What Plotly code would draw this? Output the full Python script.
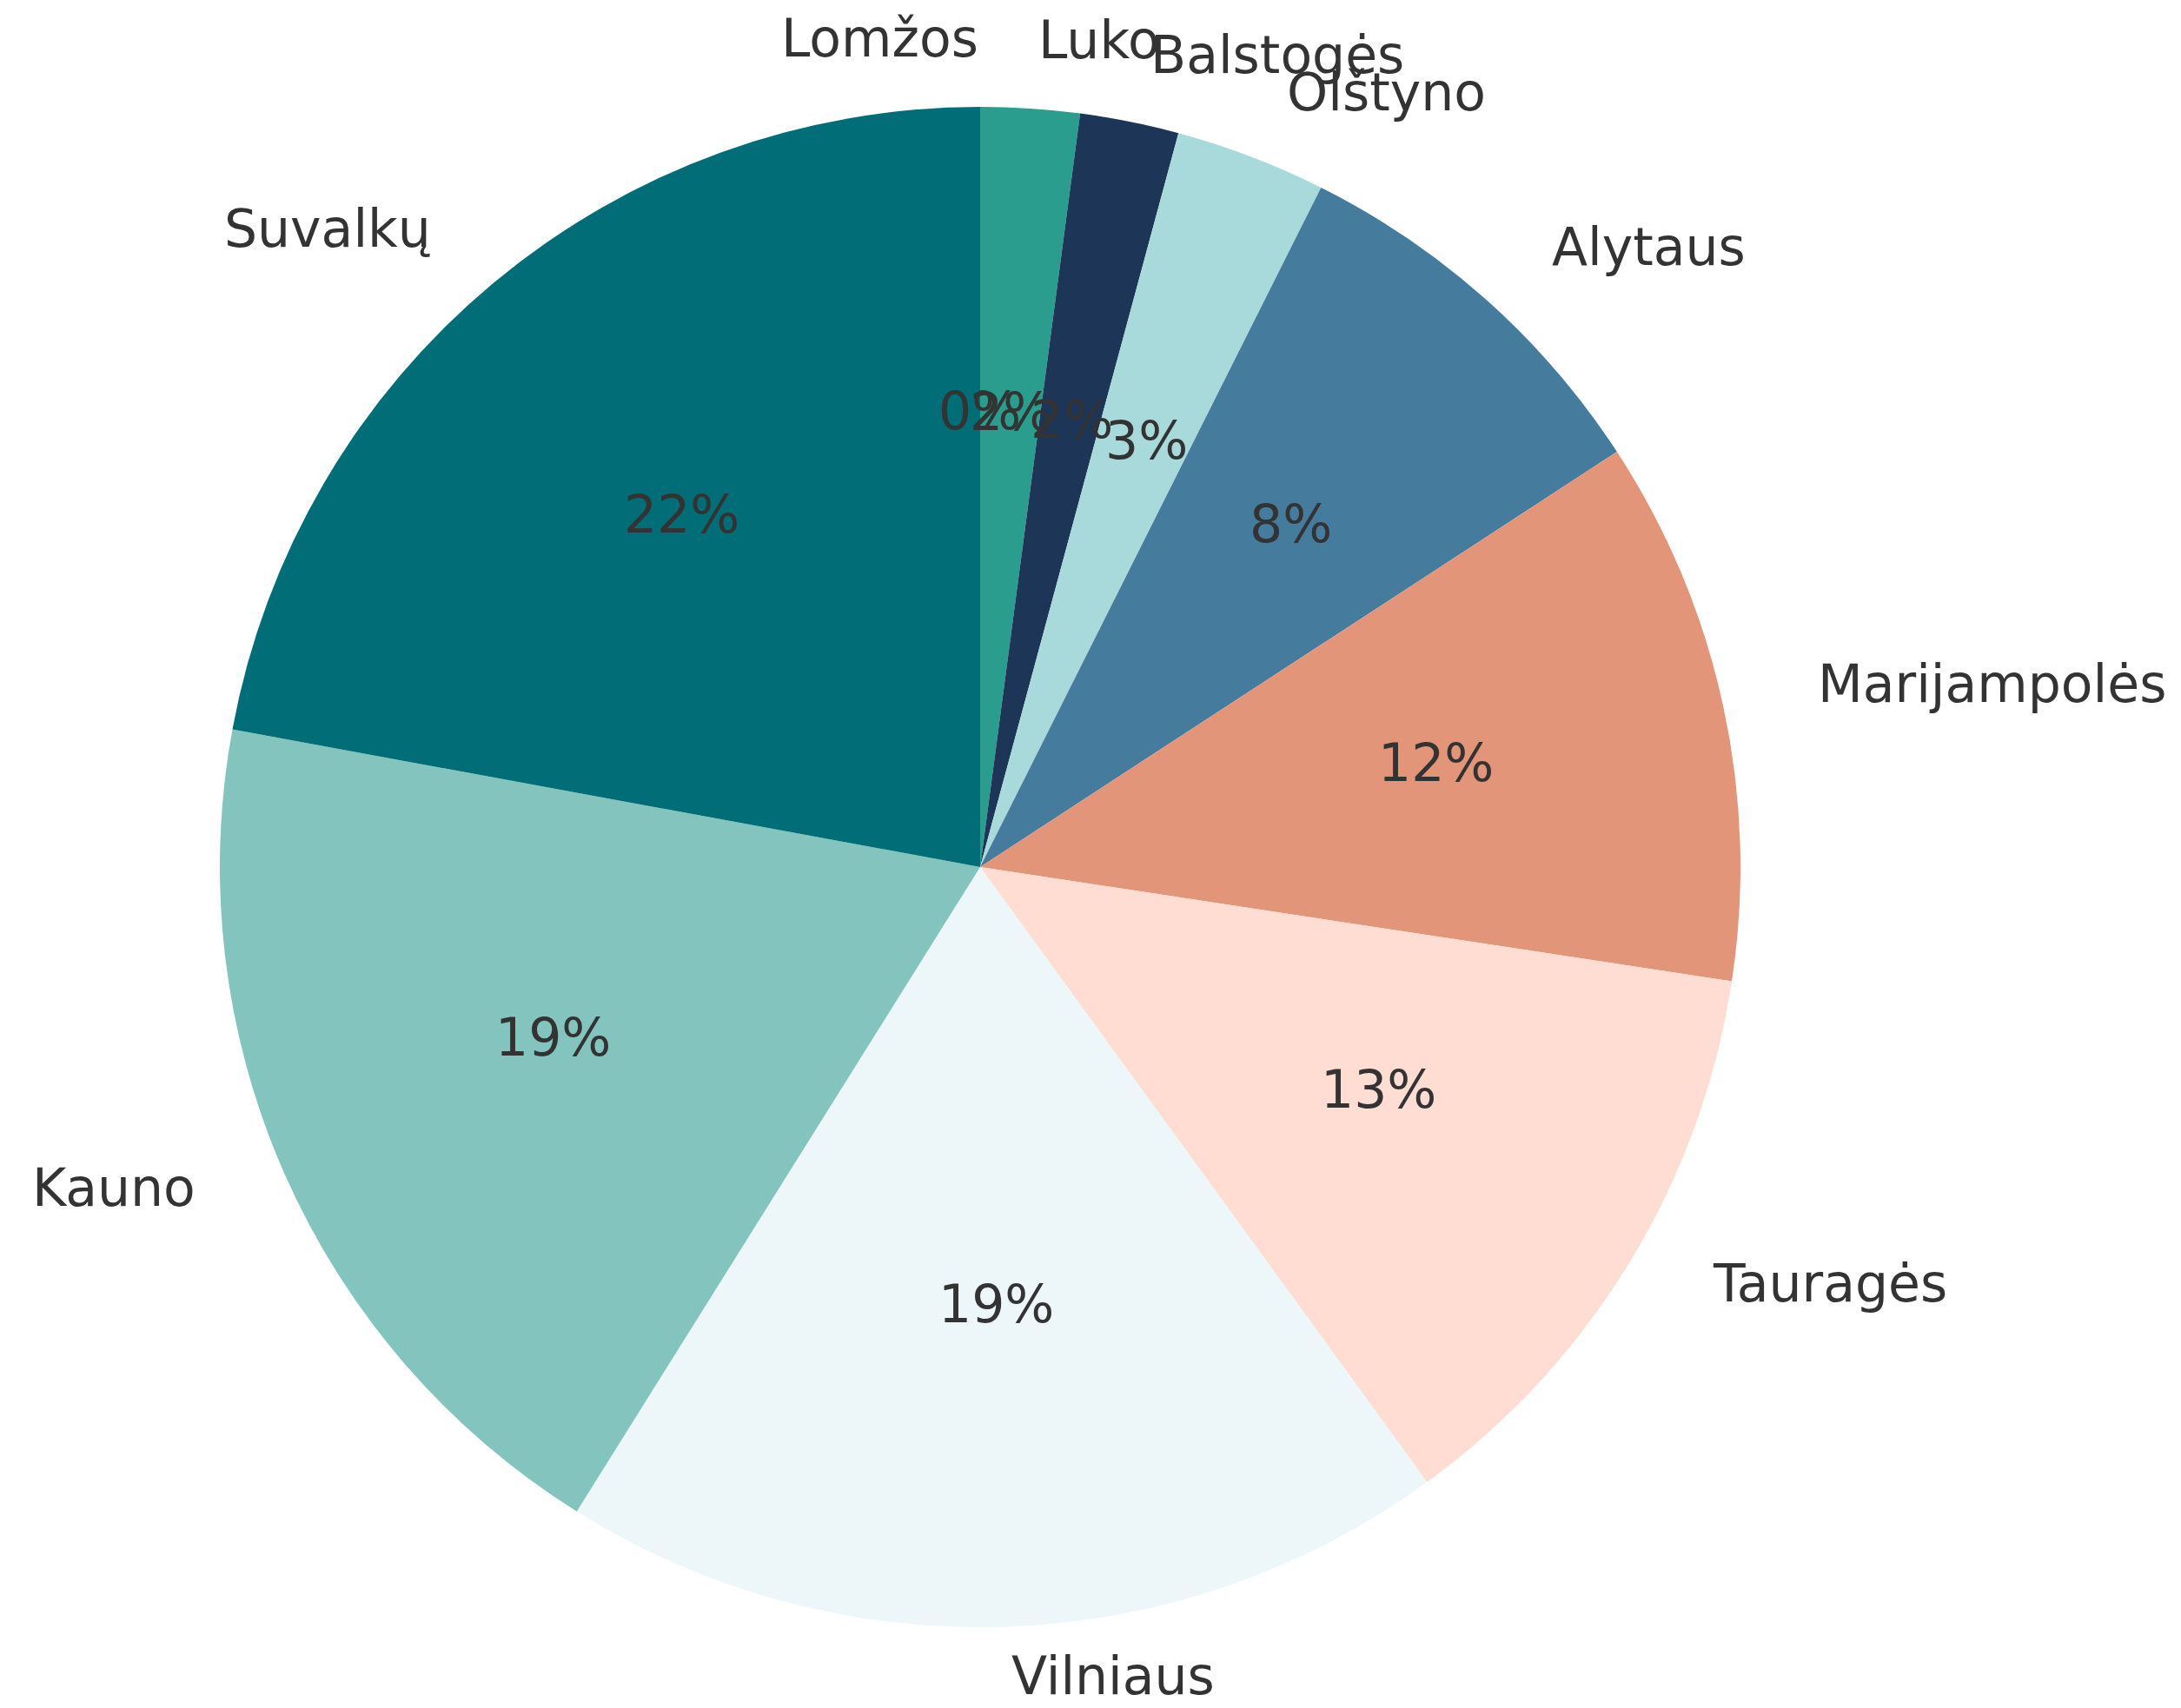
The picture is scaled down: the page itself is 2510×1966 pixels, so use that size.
import math
import plotly.graph_objects as go

# Data (percent shares), clockwise from 12 o'clock
regions = ["Luko", "Balstogės", "Olštyno", "Alytaus", "Marijampolės",
           "Tauragės", "Vilniaus", "Kauno", "Suvalkų", "Lomžos"]
shares = [2.1, 2.1, 3.2, 8.4, 11.6, 12.6, 18.9, 19.0, 22.1, 0.0]
colors = ["#2a9d8f", "#1d3557", "#a8dadc", "#457b9d", "#e29578",
          "#ffddd2", "#edf6f9", "#83c5be", "#006d77", "#e76f51"]

W, H = 2510, 1966
CX, CY, R = 1120, 990, 875  # pie centre and radius in pixels (layout)
RX, RY = 895, 857           # text placement radii (reference is slightly elliptical)
TEXT_DY = 11                # small vertical correction for text box centring
FONT = "DejaVu Sans"
TXT = "#333333"
FS = 60

fig = go.Figure()
fig.add_trace(go.Pie(
    labels=regions, values=shares, sort=False, direction="clockwise",
    rotation=0, textinfo="none", hoverinfo="label+percent",
    marker=dict(colors=colors, line=dict(width=0)),
    showlegend=False,
    domain=dict(x=[(CX - R) / W, (CX + R) / W],
                y=[(H - CY - R) / H, (H - CY + R) / H]),
))

total = sum(shares)
cum = 0.0
annotations = []
for name, v in zip(regions, shares):
    mid = (cum + v / 2) / total * 2 * math.pi
    cum += v
    s, c = math.sin(mid), math.cos(mid)
    # category label at 1.1 r
    lx = CX + 1.1 * RX * s
    ly = CY - 1.1 * RY * c - TEXT_DY
    annotations.append(dict(
        x=lx / W, y=(H - ly) / H, xref="paper", yref="paper",
        text=name, showarrow=False,
        xanchor="left" if s > 0 else "right", yanchor="middle",
        font=dict(family=FONT, size=FS, color=TXT)))
    # percent label at 0.6 r
    px = CX + 0.6 * RX * s
    py = CY - 0.6 * RY * c - TEXT_DY
    annotations.append(dict(
        x=px / W, y=(H - py) / H, xref="paper", yref="paper",
        text="%d%%" % round(v / total * 100), showarrow=False,
        xanchor="center", yanchor="middle",
        font=dict(family=FONT, size=FS, color=TXT)))

fig.update_layout(
    width=W, height=H, margin=dict(l=0, r=0, t=0, b=0),
    paper_bgcolor="white", plot_bgcolor="white",
    annotations=annotations,
    font=dict(family=FONT, color=TXT),
)

fig.write_html("out.html")
